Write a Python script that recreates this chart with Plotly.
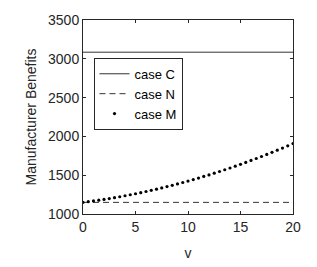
import plotly.graph_objects as go

v = [i * 0.5 for i in range(41)]
case_c = [3085] * 41
case_n = [1150] * 41
case_m = [1150, 1159, 1168, 1178, 1188, 1199, 1210, 1222, 1235, 1248,
          1261, 1275, 1290, 1305, 1320, 1336, 1353, 1370, 1388, 1406,
          1424, 1444, 1463, 1484, 1504, 1526, 1548, 1570, 1593, 1616,
          1640, 1665, 1690, 1715, 1741, 1768, 1795, 1822, 1850, 1879, 1908]
x_ticks = [0, 5, 10, 15, 20]
y_ticks = [1000, 1500, 2000, 2500, 3000, 3500]

FONT = "Liberation Sans, Arial"
fig = go.Figure()
fig.add_trace(go.Scatter(x=v, y=case_c, mode="lines", name="case C",
                         line=dict(color="#333333", width=1)))
fig.add_trace(go.Scatter(x=v, y=case_n, mode="lines", name="case N",
                         line=dict(color="#333333", width=1, dash="6px,4px")))
fig.add_trace(go.Scatter(x=v, y=case_m, mode="markers", name="case M",
                         marker=dict(color="black", size=3.2)))

axis_common = dict(showgrid=False, zeroline=False, showline=True, mirror="ticks",
                   linecolor="#262626", linewidth=1, ticks="inside", ticklen=3,
                   tickcolor="#262626", automargin=False,
                   tickfont=dict(family=FONT, size=14, color="#262626"))

# page body has an 8px default margin, so the figure is sized/offset to compensate
fig.update_layout(
    width=309, height=259,
    margin=dict(l=75, r=24, t=12, b=53),
    paper_bgcolor="white", plot_bgcolor="white",
    showlegend=True,
    legend=dict(x=0.05, y=0.805, xanchor="left", yanchor="top",
                bgcolor="white", bordercolor="#262626", borderwidth=1,
                font=dict(family=FONT, size=13, color="black"),
                tracegroupgap=0, itemwidth=30),
    xaxis=dict(range=[0, 20], tickvals=x_ticks,
               title=dict(text="v", font=dict(family=FONT, size=14, color="#262626"), standoff=14),
               **axis_common),
    yaxis=dict(range=[1000, 3500], tickvals=y_ticks,
               title=dict(text="Manufacturer Benefits", font=dict(family=FONT, size=14, color="#262626"), standoff=8),
               **axis_common),
)

fig.write_html("out.html")
